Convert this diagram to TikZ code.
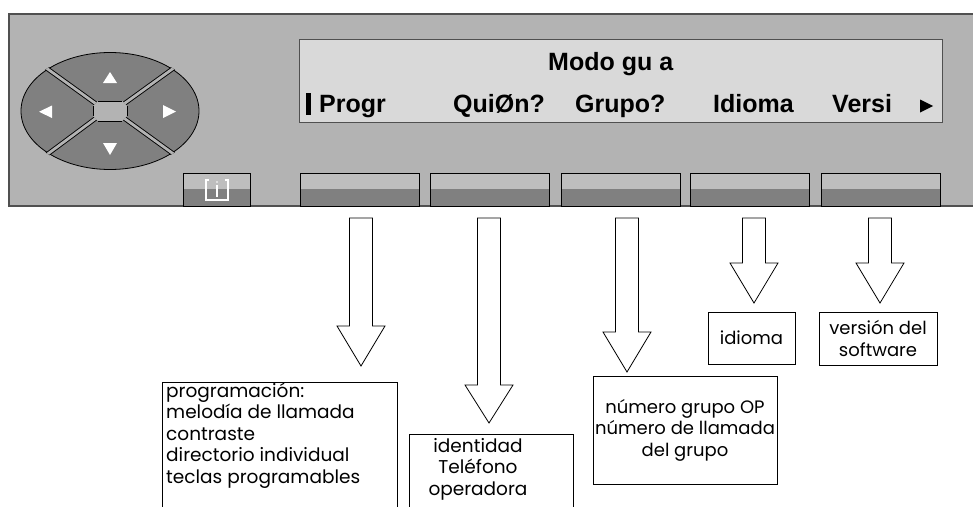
\documentclass[tikz,border=0pt]{standalone}
\usepackage{fontspec}
\setmainfont{Poppins}
\newfontfamily\lcdfont{Liberation Sans}
\definecolor{panel}{HTML}{B3B3B3}
\definecolor{lcd}{HTML}{D9D9D9}
\definecolor{keylight}{HTML}{BEBEBE}
\definecolor{keydark}{HTML}{808080}
\definecolor{edge}{HTML}{505050}
\newcommand{\blockarrow}[4]{% center x, shaft top, head top, tip
  \draw[arrowline] (#1-11.5,#2) -- (#1-11.5,#3) -- (#1-24,#3) -- (#1,#4)
    -- (#1+24,#3) -- (#1+11.5,#3) -- (#1+11.5,#2) -- cycle;}
\begin{document}
\begin{tikzpicture}[x=1pt,y=-1pt,
  softkey/.style={draw=black, line width=0.8pt, fill=keydark, minimum height=33pt,
    inner sep=0pt, path picture={\fill[keylight] (path picture bounding box.north west)
    rectangle ([yshift=-16pt]path picture bounding box.north east);}},
  lcdtext/.style={font=\lcdfont\bfseries\fontsize{25}{30}\selectfont, inner sep=0pt, anchor=base west},
  arrowline/.style={draw=black, line width=0.8pt, fill=white},
  infobox/.style={draw=black, line width=0.8pt, inner sep=0pt},
  infotext/.style={font=\fontsize{18.5}{21.5}\selectfont, inner sep=0pt},
  smalltext/.style={font=\fontsize{18}{21.5}\selectfont, inner sep=0pt},
  padtri/.style={fill=white, draw=none}]
\clip (0,0) rectangle (973,506);
\fill[white] (0,0) rectangle (973,506);
% panel
\draw[fill=panel, draw=edge, line width=1.2pt] (9,14) rectangle (985,206);
% navigation pad
\fill[keydark] (110,111) ellipse [x radius=89pt, y radius=58.5pt];
\begin{scope}
  \clip (110,111) ellipse [x radius=90pt, y radius=59.5pt];
  \draw[black, line width=0.8pt] (110,111) ellipse [x radius=89pt, y radius=58.5pt];
  \draw[black, line width=4.6pt] (95.5,103.5) -- (35,59.9) (124.5,103.5) -- (185,59.9)
     (95.5,118.5) -- (35,163.4) (124.5,118.5) -- (186,163);
  \draw[panel, line width=2.8pt] (95.5,103.5) -- (35,59.9) (124.5,103.5) -- (185,59.9)
     (95.5,118.5) -- (35,163.4) (124.5,118.5) -- (186,163);
\end{scope}
\fill[panel] (98,101) -- (122,101) -- (127,106) -- (127,116) -- (122,121) -- (98,121)
   -- (93,116) -- (93,106) -- cycle;
\draw[black, line width=0.7pt] (98,101) -- (122,101) (127,106) -- (127,116)
   (122,121) -- (98,121) (93,116) -- (93,106);
\fill[padtri] (103,83) -- (117,83) -- (110,72) -- cycle;
\fill[padtri] (52,105.5) -- (52,118) -- (39,111.75) -- cycle;
\fill[padtri] (163,105) -- (163,118) -- (176,111.5) -- cycle;
\fill[padtri] (103,143) -- (117,143) -- (110,155) -- cycle;
% display
\node[draw=edge, fill=lcd, line width=1pt, minimum width=643pt, minimum height=83pt,
  inner sep=0pt] (lcd) at (620.5,80.5) {};
\node[lcdtext] (title) at (548,70) {Modo gu a};
\fill[black] (306,93) rectangle (311,115);
\node[lcdtext] (t1) at (319,112) {Progr};
\node[lcdtext] (t2) at (453,112) {QuiØn?};
\node[lcdtext] (t3) at (575,112) {Grupo?};
\node[lcdtext] (t4) at (713,112) {Idioma};
\node[lcdtext] (t5) at (832,112) {Versi};
\fill[black] (920,99.5) -- (920,112.5) -- (933,106) -- cycle;
% soft keys
\node[softkey, minimum width=67pt] (k0) at (216.5,189.5) {};
\node[softkey, minimum width=119pt] (k1) at (360,189.5) {};
\node[softkey, minimum width=119pt] (k2) at (490,189.5) {};
\node[softkey, minimum width=119pt] (k3) at (620.5,189.5) {};
\node[softkey, minimum width=119pt] (k4) at (750,189.5) {};
\node[softkey, minimum width=119pt] (k5) at (880.5,189.5) {};
\draw[white, line width=1.3pt] (209,180) -- (206,180) -- (206,200) -- (228,200) -- (228,180) -- (225,180);
\draw[white, line width=1.3pt] (217,185) -- (217,197);
\fill[white] (217,182) circle [radius=0.9pt];
% arrows
\blockarrow{361}{218}{326}{366}
\blockarrow{489}{218}{385}{423}
\blockarrow{627}{218}{332}{372}
\blockarrow{754}{218}{263}{303}
\blockarrow{880}{218}{263}{303}
% boxes
\node[infobox, minimum width=235pt, minimum height=140pt, anchor=north west] (b1) at (162,382) {};
\node[infotext, align=left, anchor=base west] (b1t) at (166,483) {programación:\\melodía de llamada\\contraste\\directorio individual\\teclas programables};
\node[infobox, minimum width=164pt, minimum height=100pt, anchor=north west] (b2) at (409,434) {};
\node[infotext, align=center, anchor=base] (b2t) at (478,495) {identidad\\Teléfono\\operadora};
\node[infobox, smalltext, minimum width=184pt, minimum height=108pt, align=center] (b3) at (685,430) {número grupo OP\\número de llamada\\del grupo};
\node[infobox, smalltext, minimum width=87pt, minimum height=52pt] (b4) at (751.5,338) {idioma};
\node[infobox, smalltext, minimum width=118pt, minimum height=53pt, align=center] (b5) at (878,338.5) {versión del\\software};
\end{tikzpicture}
\end{document}
